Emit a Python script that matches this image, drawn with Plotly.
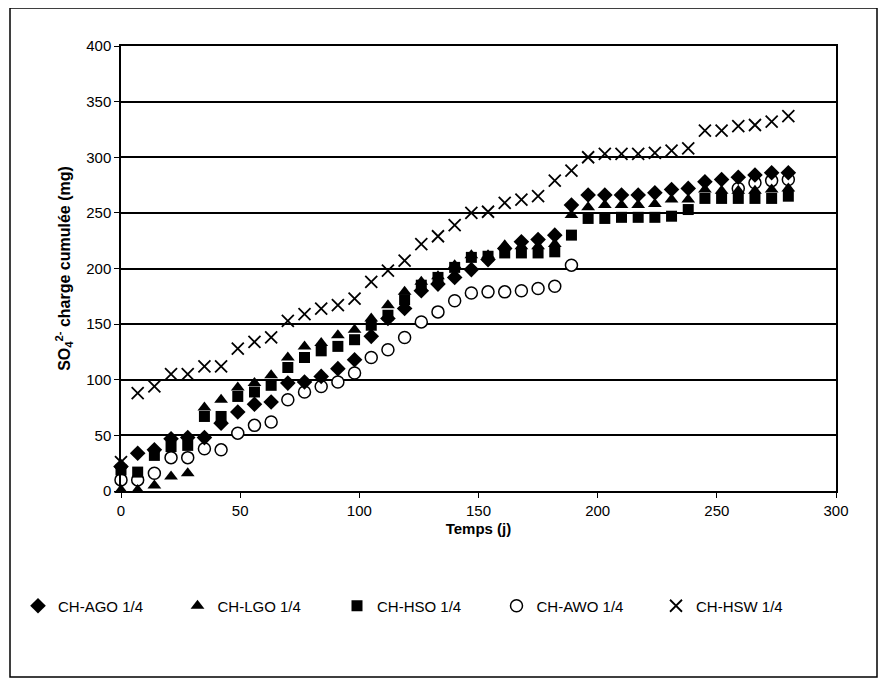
import plotly.graph_objects as go

days = [0, 7, 14, 21, 28, 35, 42, 49, 56, 63, 70, 77, 84, 91, 98, 105, 112, 119, 126, 133,
        140, 147, 154, 161, 168, 175, 182, 189, 196, 203, 210, 217, 224, 231, 238, 245,
        252, 259, 266, 273, 280]

ago = [22, 34, 37, 47, 48, 48, 61, 71, 78, 80, 97, 98, 103, 110, 118, 139, 155, 164, 180, 186,
       192, 199, 208, 218, 224, 226, 230, 257, 266, 266, 266, 266, 268, 271, 272, 278,
       280, 282, 284, 286, 286]

lgo = [1, 1, 5, 13, 16, 75, 82, 93, 97, 104, 120, 130, 133, 140, 145, 155, 167, 179, 188, 193,
       203, 212, 212, 221, 220, 220, 222, 248, 255, 257, 257, 257, 258, 262, 262, 271,
       270, 270, 270, 271, 272]

hso = [19, 17, 32, 40, 41, 67, 67, 85, 89, 95, 111, 120, 126, 130, 136, 149, 158, 172, 185, 192,
       201, 210, 211, 214, 214, 214, 215, 230, 245, 245, 246, 246, 246, 247, 253, 263,
       263, 263, 263, 263, 265]

awo = [10, 10, 16, 30, 30, 38, 37, 52, 59, 62, 82, 89, 94, 98, 106, 120, 127, 138, 152, 161,
       171, 178, 179, 179, 180, 182, 184, 203, None, None, None, None, None, None, None, None,
       None, 272, 277, 279, 280]

hsw = [26, 88, 94, 105, 105, 112, 112, 128, 134, 138, 153, 159, 164, 167, 173, 188, 198, 207, 222, 229,
       239, 250, 251, 259, 262, 265, 279, 288, 300, 303, 303, 303, 304, 306, 308, 324,
       324, 328, 329, 332, 337]

names = ["CH-AGO 1/4", "CH-LGO 1/4", "CH-HSO 1/4", "CH-AWO 1/4", "CH-HSW 1/4"]

FONT = "Liberation Sans, Arial, sans-serif"

fig = go.Figure()

# AWO drawn first so other markers sit on top
fig.add_trace(go.Scatter(x=days, y=awo, mode="markers", name=names[3], legendrank=4,
                         cliponaxis=False,
                         marker=dict(symbol="circle", size=12, color="white",
                                     line=dict(color="black", width=1.5))))
fig.add_trace(go.Scatter(x=days, y=ago, mode="markers", name=names[0], legendrank=1,
                         cliponaxis=False,
                         marker=dict(symbol="diamond", size=12, color="black",
                                     line=dict(width=0))))
fig.add_trace(go.Scatter(x=days, y=lgo, mode="markers", name=names[1], legendrank=2,
                         cliponaxis=False,
                         marker=dict(symbol="triangle-up", size=12, color="black",
                                     line=dict(width=0))))
fig.add_trace(go.Scatter(x=days, y=hso, mode="markers", name=names[2], legendrank=3,
                         cliponaxis=False,
                         marker=dict(symbol="square", size=11, color="black",
                                     line=dict(width=0))))
fig.add_trace(go.Scatter(x=days, y=hsw, mode="markers", name=names[4], legendrank=5,
                         cliponaxis=False,
                         marker=dict(symbol="x-thin", size=12, color="black",
                                     line=dict(color="black", width=1.8))))

# page offset of 8px (body margin) accounted for
OFF = 8
W, H = 887 - OFF, 686 - OFF
L, R, T, B = 121 - OFF, 836 - OFF, 46 - OFF, 491 - OFF
pw, ph = R - L, B - T


def px2paper_x(px):
    return (px - OFF - L) / pw


def px2paper_y(py):
    return (B - (py - OFF)) / ph


fig.update_layout(
    width=W, height=H,
    margin=dict(l=L, r=W - R, t=T, b=H - B, pad=0, autoexpand=False),
    paper_bgcolor="white", plot_bgcolor="white",
    font=dict(family=FONT, size=15, color="black"),
    showlegend=True,
    legend=dict(orientation="h", x=px2paper_x(18), xanchor="left",
                y=px2paper_y(606), yanchor="middle",
                font=dict(family=FONT, size=15, color="black"),
                itemwidth=30, entrywidth=114.5, entrywidthmode="pixels",
                bgcolor="rgba(0,0,0,0)"),
    xaxis=dict(range=[0, 300], dtick=50, tick0=0, showgrid=False, zeroline=False,
               showline=True, linecolor="black", linewidth=1.5, mirror=True,
               ticks="outside", ticklen=5, tickcolor="black", tickwidth=1,
               tickfont=dict(family=FONT, size=15, color="black"),
               title=dict(text="<b>Temps (j)</b>", font=dict(family=FONT, size=15), standoff=6)),
    yaxis=dict(range=[0, 400], dtick=50, tick0=0, showgrid=True, gridcolor="black", gridwidth=1.5,
               zeroline=False, showline=True, linecolor="black", linewidth=1.5, mirror=True,
               ticks="outside", ticklen=5, tickcolor="black", tickwidth=1,
               tickfont=dict(family=FONT, size=15, color="black"),
               title=dict(text="<b>SO<sub>4</sub><sup>2-</sup> charge cumulée (mg)</b>",
                          font=dict(family=FONT, size=16), standoff=12)),
    shapes=[dict(type="rect", xref="paper", yref="paper",
                 x0=px2paper_x(10), x1=px2paper_x(877),
                 y0=px2paper_y(677), y1=px2paper_y(8),
                 line=dict(color="black", width=1.5), fillcolor="rgba(0,0,0,0)", layer="below")],
)

fig.write_html("out.html")
